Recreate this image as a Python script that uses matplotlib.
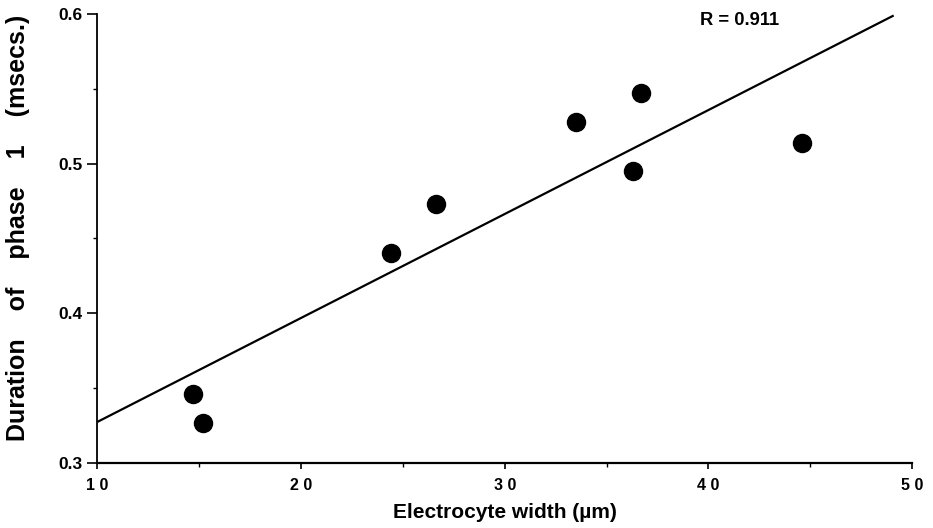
import matplotlib
matplotlib.use("Agg")
import matplotlib.pyplot as plt
from matplotlib.ticker import MultipleLocator

plt.rcParams['font.family'] = ['Liberation Sans', 'DejaVu Sans']

# Data
width_um = [14.7, 15.2, 24.4, 26.6, 33.5, 36.3, 36.7, 44.6]
duration_ms = [0.346, 0.327, 0.440, 0.473, 0.528, 0.495, 0.547, 0.514]
fit_x = [10.0, 49.1]
fit_y = [0.3275, 0.599]
x_ticks = [10, 20, 30, 40, 50]
x_tick_labels = ["1 0", "2 0", "3 0", "4 0", "5 0"]
y_ticks = [0.3, 0.4, 0.5, 0.6]
y_tick_labels = ["0.3", "0.4", "0.5", "0.6"]
r_label = "R = 0.911"

fig = plt.figure(figsize=(9.33, 5.28), dpi=100)
ax = fig.add_axes([0.1045, 0.1231, 0.873, 0.8504])

ax.plot(fit_x, fit_y, color='black', lw=1.6, solid_capstyle='butt')
ax.plot(width_um, duration_ms, 'o', color='black', ms=13, mec='black')

ax.set_xlim(10, 50)
ax.set_ylim(0.3, 0.6)
ax.spines['top'].set_visible(False)
ax.spines['right'].set_visible(False)
ax.spines['left'].set_linewidth(1.3)
ax.spines['bottom'].set_linewidth(1.6)

ax.set_xticks(x_ticks)
ax.set_xticklabels(x_tick_labels, fontsize=11.5, fontweight='bold')
ax.set_yticks(y_ticks)
ax.set_yticklabels(y_tick_labels, fontsize=12.5, fontweight='bold')
ax.xaxis.set_minor_locator(MultipleLocator(5))
ax.yaxis.set_minor_locator(MultipleLocator(0.05))
ax.tick_params(axis='x', which='major', direction='out', length=4, width=1.2, pad=7)
ax.tick_params(axis='x', which='minor', direction='out', length=3, width=1.0)
ax.tick_params(axis='y', which='major', direction='out', length=7, width=1.2, pad=4)
ax.tick_params(axis='y', which='minor', direction='out', length=3, width=1.0)

ax.set_xlabel("Electrocyte width (\u00b5m)", fontsize=15, fontweight='bold', labelpad=7)
ax.set_ylabel("Duration    of    phase    1    (msecs.)", fontsize=18, fontweight='bold')
ax.yaxis.set_label_coords(-0.083, 0.523)

ax.text(39.6, 0.5955, r_label, fontsize=13.2, fontweight='bold', va='center', ha='left')

fig.savefig("out.png", dpi=100)
